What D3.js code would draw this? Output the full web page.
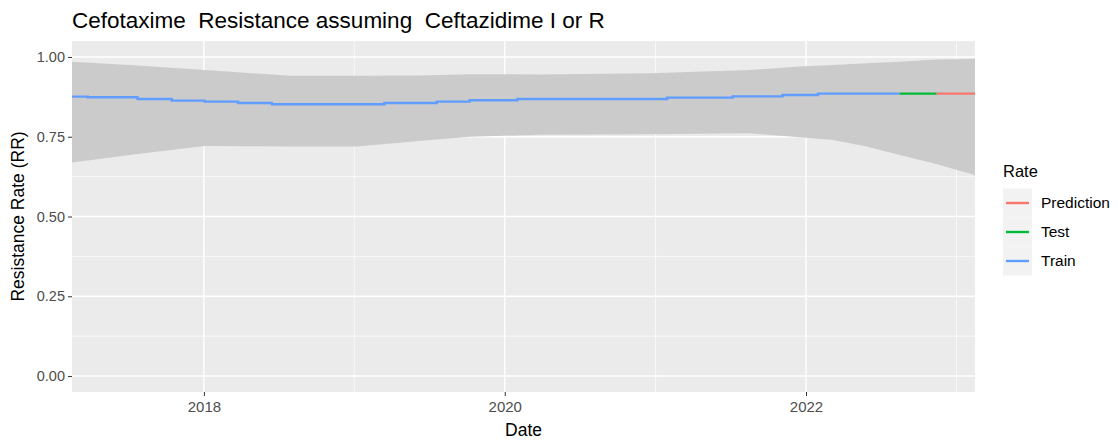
<!DOCTYPE html>
<html>
<head>
<meta charset="utf-8">
<script src="https://cdn.jsdelivr.net/npm/d3@7"></script>
<style>
  body { margin: 0; background: #fff; }
  text { font-family: "Liberation Sans", Arial, sans-serif; white-space: pre; }
</style>
</head>
<body>
<svg id="chart" width="1118" height="441"></svg>
<script>
// chart values
var seriesNames = ["Prediction", "Test", "Train"];
var seriesColors = ["#F8766D", "#00BA38", "#619CFF"];

// train line: value holds from each date until the next one
var trainDates = ["2017-02-15", "2017-03-25", "2017-07-24", "2017-10-15", "2018-01-03", "2018-03-25",
    "2018-06-15", "2019-03-15", "2019-07-20", "2019-10-08", "2020-02-01", "2021-01-29",
    "2021-07-07", "2021-11-05", "2022-01-30", "2022-08-16"];
var trainValues = [0.8756, 0.8737, 0.8683, 0.8630, 0.8599, 0.8558, 0.8517, 0.8558, 0.8599, 0.8643,
    0.8683, 0.8725, 0.8766, 0.8810, 0.8850, 0.8850];

var testDates = ["2022-08-16", "2022-11-14"];
var testValues = [0.885, 0.885];

var predDates = ["2022-11-14", "2023-02-15"];
var predValues = [0.885, 0.885];

// confidence band
var bandDates = ["2017-02-15", "2017-07-24", "2018-01-03", "2018-07-28", "2019-01-07", "2019-06-08",
    "2019-10-08", "2020-03-25", "2020-12-18", "2021-08-17", "2021-12-16", "2022-03-07",
    "2022-05-28", "2022-08-16", "2022-11-04", "2023-02-15"];
var bandUpper = [0.985, 0.973, 0.959, 0.941, 0.941, 0.942, 0.946, 0.945, 0.949, 0.959, 0.970, 0.975,
    0.980, 0.985, 0.991, 0.994];
var bandLower = [0.669, 0.696, 0.721, 0.719, 0.719, 0.737, 0.750, 0.756, 0.758, 0.761, 0.748, 0.740,
    0.719, 0.693, 0.668, 0.630];

var yTicks = [0, 0.25, 0.5, 0.75, 1];
var yMinor = [0.125, 0.375, 0.625, 0.875];
var xTickYears = [2018, 2020, 2022];
var xMinorYears = [2019, 2021, 2023];

var parseDate = d3.timeParse("%Y-%m-%d");

var svg = d3.select("#chart");
var panel = { left: 72, right: 975, top: 41, bottom: 392 };

var x = d3.scaleTime()
    .domain([parseDate("2017-02-15"), parseDate("2023-02-15")])
    .range([panel.left, panel.right]);
var y = d3.scaleLinear()
    .domain([-0.05, 1.05])
    .range([panel.bottom, panel.top]);

// panel background
svg.append("rect")
    .attr("x", panel.left)
    .attr("y", panel.top)
    .attr("width", panel.right - panel.left)
    .attr("height", panel.bottom - panel.top)
    .attr("fill", "#EBEBEB");

// minor grid
svg.selectAll(".ygm").data(yMinor).enter().append("line")
    .attr("x1", panel.left).attr("x2", panel.right)
    .attr("y1", d => y(d)).attr("y2", d => y(d))
    .attr("stroke", "#fff").attr("stroke-width", 0.7);
svg.selectAll(".xgm").data(xMinorYears).enter().append("line")
    .attr("x1", d => x(new Date(d, 0, 1))).attr("x2", d => x(new Date(d, 0, 1)))
    .attr("y1", panel.top).attr("y2", panel.bottom)
    .attr("stroke", "#fff").attr("stroke-width", 0.7);

// major grid
svg.selectAll(".ygM").data(yTicks).enter().append("line")
    .attr("x1", panel.left).attr("x2", panel.right)
    .attr("y1", d => y(d)).attr("y2", d => y(d))
    .attr("stroke", "#fff").attr("stroke-width", 1.4);
svg.selectAll(".xgM").data(xTickYears).enter().append("line")
    .attr("x1", d => x(new Date(d, 0, 1))).attr("x2", d => x(new Date(d, 0, 1)))
    .attr("y1", panel.top).attr("y2", panel.bottom)
    .attr("stroke", "#fff").attr("stroke-width", 1.4);

// band
var bandData = bandDates.map((d, i) => ({ date: parseDate(d), lo: bandLower[i], hi: bandUpper[i] }));
svg.append("path")
    .datum(bandData)
    .attr("fill", "#CBCBCB")
    .attr("d", d3.area()
        .x(d => x(d.date))
        .y0(d => y(d.lo))
        .y1(d => y(d.hi)));

// lines
var trainData = trainDates.map((d, i) => ({ date: parseDate(d), v: trainValues[i] }));
var testData = testDates.map((d, i) => ({ date: parseDate(d), v: testValues[i] }));
var predData = predDates.map((d, i) => ({ date: parseDate(d), v: predValues[i] }));

var lineStep = d3.line().x(d => x(d.date)).y(d => y(d.v)).curve(d3.curveStepAfter);
var lineStraight = d3.line().x(d => x(d.date)).y(d => y(d.v));

svg.append("path").datum(trainData)
    .attr("fill", "none").attr("stroke", seriesColors[2]).attr("stroke-width", 2.4)
    .attr("d", lineStep);
svg.append("path").datum(testData)
    .attr("fill", "none").attr("stroke", seriesColors[1]).attr("stroke-width", 2.4)
    .attr("d", lineStraight);
svg.append("path").datum(predData)
    .attr("fill", "none").attr("stroke", seriesColors[0]).attr("stroke-width", 2.4)
    .attr("d", lineStraight);

// y axis
var yAxis = svg.append("g")
    .attr("transform", "translate(" + panel.left + ",0)")
    .call(d3.axisLeft(y).tickValues(yTicks).tickFormat(d3.format(".2f")).tickSize(4).tickPadding(3));
yAxis.select(".domain").remove();
yAxis.selectAll("line").attr("stroke", "#333");
yAxis.selectAll("text").attr("fill", "#4D4D4D").style("font-size", "14.5px")
    .style("font-family", "Liberation Sans, Arial, sans-serif");

// x axis
var xAxis = svg.append("g")
    .attr("transform", "translate(0," + panel.bottom + ")")
    .call(d3.axisBottom(x).tickValues(xTickYears.map(d => new Date(d, 0, 1)))
        .tickFormat(d3.timeFormat("%Y")).tickSize(4).tickPadding(5));
xAxis.select(".domain").remove();
xAxis.selectAll("line").attr("stroke", "#333");
xAxis.selectAll("text").attr("fill", "#4D4D4D").style("font-size", "15px")
    .style("font-family", "Liberation Sans, Arial, sans-serif");

// titles
svg.append("text")
    .attr("x", panel.left)
    .attr("y", 28)
    .style("font-size", "22.5px")
    .attr("fill", "#000")
    .text("Cefotaxime  Resistance assuming  Ceftazidime I or R");

svg.append("text")
    .attr("x", (panel.left + panel.right) / 2)
    .attr("y", 436)
    .attr("text-anchor", "middle")
    .style("font-size", "17.5px")
    .text("Date");

svg.append("text")
    .attr("transform", "translate(24," + ((panel.top + panel.bottom) / 2) + ") rotate(-90)")
    .attr("text-anchor", "middle")
    .style("font-size", "17.5px")
    .text("Resistance Rate (RR)");

// legend
var legend = svg.append("g").attr("transform", "translate(1003,0)");
legend.append("text")
    .attr("x", 0).attr("y", 177)
    .style("font-size", "16.5px")
    .text("Rate");

var keyH = 29;
var keys = legend.selectAll(".key").data(seriesNames).enter().append("g")
    .attr("transform", (d, i) => "translate(0," + (188.5 + i * keyH) + ")");
keys.append("rect")
    .attr("width", 29).attr("height", keyH)
    .attr("fill", "#F2F2F2");
keys.append("line")
    .attr("x1", 3).attr("x2", 26)
    .attr("y1", keyH / 2).attr("y2", keyH / 2)
    .attr("stroke", (d, i) => seriesColors[i])
    .attr("stroke-width", 2.4);
keys.append("text")
    .attr("x", 38).attr("y", keyH / 2 + 5)
    .style("font-size", "15.5px")
    .text(d => d);
</script>
</body>
</html>
